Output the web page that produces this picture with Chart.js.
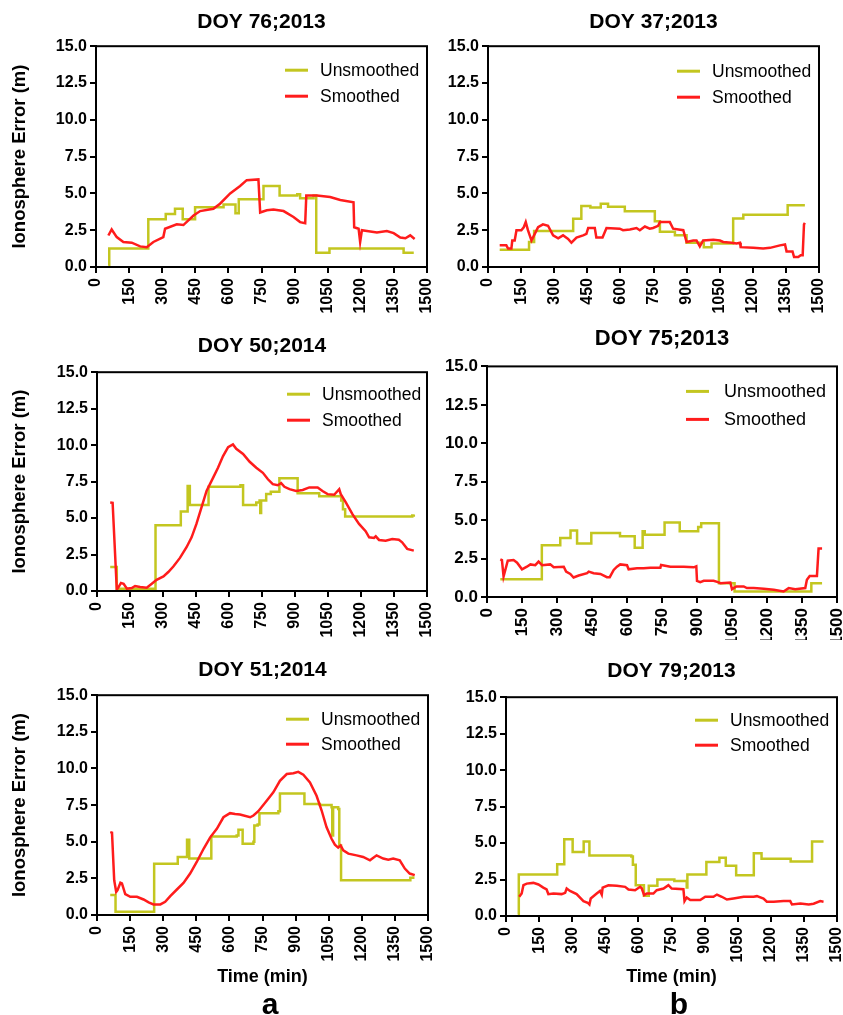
<!DOCTYPE html>
<html>
<head>
<meta charset="utf-8">
<title>Ionosphere error</title>
<script src="https://cdn.jsdelivr.net/npm/chart.js@4.4.1/dist/chart.umd.min.js"></script>
<style>
  body { margin: 0; width: 843px; height: 1015px; overflow: hidden; background: #fff; position: relative;
         font-family: "Liberation Sans", Arial, sans-serif; }
  canvas { position: absolute; }
  .tag { position: absolute; width: 40px; text-align: center; font-weight: bold; font-size: 30px; line-height: 30px; color: #000; }
</style>
</head>
<body>
<canvas id="c1" width="457" height="315" style="left:0px;top:0px"></canvas>
<canvas id="c2" width="419" height="315" style="left:430px;top:0px"></canvas>
<canvas id="c3" width="457" height="320" style="left:0px;top:320px"></canvas>
<canvas id="c4" width="437" height="320" style="left:430px;top:320px"></canvas>
<canvas id="c5" width="458" height="375" style="left:0px;top:640px"></canvas>
<canvas id="c6" width="437" height="375" style="left:430px;top:640px"></canvas>
<div class="tag" style="left:250px;top:989px">a</div>
<div class="tag" style="left:659px;top:989px">b</div>
<script>
// [time (min), error (m)]; unsmoothed = step changes
var doy76Unsmoothed = [[56,0.1],[60,1.25],[237,3.25],[316,3.6],[358,3.95],[393,3.25],[449,4.06],[578,4.24],[632,3.65],[647,4.6],[759,5.5],[832,4.85],[912,4.95],[925,4.67],[986,4.85],[998,0.97],[1058,1.25],[1394,0.97],[1440,0.97]];
var doy76Smoothed = [[56,2.14],[71,2.55],[94,2.03],[124,1.7],[162,1.65],[200,1.4],[230,1.35],[260,1.7],[305,2.03],[313,2.6],[366,2.9],[396,2.85],[442,3.5],[472,3.8],[532,3.95],[562,4.3],[608,5.0],[653,5.5],[683,5.9],[736,5.95],[744,3.7],[774,3.85],[804,3.9],[850,3.8],[895,3.4],[925,3.05],[948,2.97],[953,4.85],[1001,4.85],[1061,4.75],[1107,4.55],[1167,4.4],[1170,2.7],[1190,2.6],[1197,1.7],[1205,2.5],[1228,2.45],[1273,2.35],[1318,2.45],[1349,2.3],[1379,2.0],[1402,1.95],[1424,2.15],[1444,1.9]];

var doy37Unsmoothed = [[53,1.17],[186,1.7],[209,2.45],[386,3.27],[423,4.15],[464,4.05],[511,4.3],[544,4.1],[620,3.79],[756,3.1],[779,2.39],[847,2.15],[900,1.65],[978,1.35],[1013,1.6],[1111,3.3],[1157,3.55],[1358,4.2],[1436,4.2]];
var doy37Smoothed = [[53,1.47],[83,1.47],[91,1.25],[106,1.25],[110,1.8],[121,1.8],[129,2.5],[151,2.5],[162,2.7],[171,3.05],[181,2.5],[197,1.8],[212,2.25],[227,2.7],[249,2.9],[272,2.8],[295,2.15],[318,1.95],[340,2.15],[363,1.9],[378,1.65],[401,2.0],[431,2.15],[446,2.25],[454,2.65],[484,2.65],[491,2.0],[519,2.0],[537,2.65],[597,2.6],[612,2.5],[643,2.55],[673,2.65],[688,2.5],[711,2.75],[733,2.6],[748,2.65],[771,2.8],[779,3.05],[824,3.05],[839,2.6],[885,2.5],[900,1.7],[930,1.8],[945,1.8],[960,1.4],[975,1.8],[1021,1.85],[1051,1.8],[1066,1.7],[1104,1.65],[1126,1.6],[1142,1.65],[1145,1.35],[1202,1.3],[1247,1.25],[1278,1.3],[1323,1.47],[1346,1.53],[1353,1.06],[1380,1.06],[1387,0.68],[1406,0.68],[1417,0.8],[1426,0.8],[1432,2.9],[1436,3.0]];

var doy50Unsmoothed = [[60,1.64],[90,0.16],[266,4.5],[381,5.45],[412,7.2],[422,5.9],[507,7.14],[652,7.25],[664,5.9],[724,6.07],[739,6.2],[742,5.35],[746,6.2],[769,6.65],[790,6.8],[829,7.73],[912,6.7],[1010,6.5],[1110,6.2],[1118,5.6],[1128,5.1],[1433,5.18],[1440,5.25]];
var doy50Smoothed = [[60,6.07],[71,6.05],[90,0.1],[98,0.27],[109,0.55],[121,0.5],[136,0.16],[158,0.2],[173,0.34],[196,0.27],[226,0.23],[249,0.5],[271,0.77],[302,1.0],[324,1.3],[347,1.68],[377,2.27],[407,3.0],[430,3.68],[452,4.6],[475,5.73],[498,6.86],[528,7.77],[550,8.45],[573,9.25],[596,9.86],[618,10.05],[633,9.75],[664,9.4],[694,8.86],[724,8.45],[754,8.1],[777,7.66],[799,7.32],[822,7.25],[837,7.4],[852,7.14],[875,6.98],[905,6.86],[935,6.93],[965,7.1],[1003,7.1],[1025,6.86],[1048,6.64],[1078,6.6],[1101,6.98],[1108,6.64],[1131,6.07],[1161,5.27],[1191,4.6],[1221,4.1],[1237,3.68],[1259,3.64],[1267,3.75],[1282,3.5],[1312,3.45],[1342,3.57],[1372,3.52],[1387,3.34],[1410,2.89],[1440,2.77]];

var doy75Unsmoothed = [[57,1.16],[235,3.37],[314,3.84],[358,4.33],[386,3.48],[447,4.16],[570,3.95],[633,3.2],[667,4.27],[676,4.05],[761,4.85],[826,4.27],[905,4.55],[918,4.79],[994,0.9],[1061,0.36],[1390,0.9],[1436,0.9]];
var doy75Smoothed = [[57,2.45],[64,2.4],[71,1.33],[89,2.36],[114,2.4],[129,2.23],[150,1.8],[171,1.97],[186,2.12],[207,2.07],[221,2.3],[236,2.07],[271,2.12],[286,1.93],[329,1.97],[339,1.65],[357,1.5],[371,1.27],[393,1.4],[429,1.55],[436,1.65],[457,1.55],[486,1.5],[514,1.29],[526,1.29],[543,1.76],[557,1.97],[571,2.12],[600,2.07],[607,1.8],[643,1.87],[671,1.87],[700,1.9],[743,1.9],[746,2.08],[786,1.97],[843,1.97],[886,1.93],[897,2.0],[900,1.05],[914,0.97],[929,1.05],[971,1.05],[990,0.97],[1000,0.9],[1043,0.94],[1050,0.51],[1069,0.69],[1100,0.69],[1114,0.58],[1143,0.58],[1186,0.54],[1229,0.47],[1271,0.36],[1293,0.58],[1321,0.51],[1364,0.58],[1371,1.12],[1383,1.37],[1414,1.37],[1421,3.15],[1436,3.15]];

var doy51Unsmoothed = [[60,1.36],[84,0.23],[259,3.5],[366,3.96],[408,5.14],[418,3.85],[518,5.36],[633,5.43],[641,5.81],[660,4.86],[709,5.0],[713,6.1],[728,6.17],[736,6.95],[822,7.08],[829,8.3],[940,7.58],[1010,7.5],[1063,7.35],[1066,5.43],[1070,7.35],[1093,7.24],[1098,4.75],[1106,2.37],[1402,2.37],[1420,2.55],[1433,2.65]];
var doy51Smoothed = [[60,5.66],[68,5.62],[78,2.37],[87,1.58],[93,1.7],[106,2.2],[113,2.15],[128,1.43],[151,1.24],[181,1.24],[211,1.06],[234,0.86],[256,0.72],[287,0.72],[309,0.9],[332,1.29],[362,1.74],[392,2.19],[422,2.83],[452,3.62],[483,4.52],[513,5.3],[543,5.88],[573,6.67],[603,6.95],[626,6.9],[648,6.86],[694,6.67],[709,6.79],[731,7.08],[769,7.8],[799,8.37],[829,9.16],[860,9.62],[890,9.68],[912,9.77],[935,9.57],[965,9.05],[995,8.14],[1018,7.13],[1040,6.0],[1063,5.2],[1078,4.8],[1093,4.6],[1104,4.75],[1116,4.41],[1139,4.19],[1176,4.07],[1206,3.96],[1237,3.73],[1267,4.07],[1297,3.85],[1320,3.78],[1342,3.85],[1372,3.73],[1395,3.17],[1417,2.83],[1440,2.72]];

var doy79Unsmoothed = [[53,0.14],[58,2.84],[232,3.54],[264,5.27],[302,4.38],[352,5.11],[378,4.15],[568,4.08],[575,3.52],[588,2.11],[625,1.38],[647,2.07],[686,2.5],[763,2.4],[819,1.95],[822,2.84],[908,3.7],[967,4.0],[996,3.45],[1043,2.79],[1123,4.31],[1158,3.93],[1290,3.74],[1387,5.11],[1439,5.11]];
var doy79Smoothed = [[60,1.32],[71,1.54],[79,2.11],[94,2.22],[124,2.27],[147,2.16],[169,1.95],[184,1.82],[192,1.5],[215,1.54],[252,1.5],[268,1.59],[275,1.88],[290,1.72],[320,1.5],[351,1.02],[370,0.91],[378,0.79],[384,1.2],[411,1.54],[426,1.72],[434,1.47],[438,1.95],[464,2.11],[502,2.07],[540,2.0],[555,1.82],[585,1.77],[608,2.0],[615,1.9],[626,1.43],[638,1.54],[668,1.54],[683,1.77],[714,1.88],[736,2.11],[751,1.88],[804,1.84],[809,1.02],[819,1.27],[835,1.09],[880,1.09],[903,1.32],[940,1.32],[956,1.47],[978,1.32],[1001,1.13],[1031,1.2],[1077,1.32],[1122,1.32],[1137,1.36],[1167,1.2],[1182,0.98],[1213,0.98],[1258,1.02],[1288,1.02],[1296,0.79],[1334,0.86],[1372,0.79],[1394,0.84],[1424,1.02],[1439,0.98]];

var seriesNames = ["Unsmoothed", "Smoothed"];
var YELLOW = "#c3c620";
var RED = "#ff1c1c";

Chart.defaults.font.family = '"Liberation Sans", Arial, sans-serif';
Chart.defaults.color = "#000";

// box round the plot area (top and right sides too)
var framePlugin = {
  id: "frame",
  afterDraw: function(chart) {
    var a = chart.chartArea, ctx = chart.ctx;
    ctx.save();
    ctx.strokeStyle = "#000";
    ctx.lineWidth = 2;
    ctx.strokeRect(a.left, a.top, a.right - a.left, a.bottom - a.top);
    ctx.restore();
  }
};

// legend drawn inside the plot, top right
var insideLegend = {
  id: "insideLegend",
  afterDraw: function(chart, args, opts) {
    var a = chart.chartArea, ctx = chart.ctx;
    var x = a.right - opts.x;
    ctx.save();
    ctx.font = opts.size + 'px "Liberation Sans", Arial, sans-serif';
    ctx.textBaseline = "middle";
    chart.data.datasets.forEach(function(ds, i) {
      var y = a.top + opts.y + i * opts.gap;
      ctx.strokeStyle = ds.borderColor;
      ctx.lineWidth = 3;
      ctx.beginPath();
      ctx.moveTo(x, y);
      ctx.lineTo(x + 23, y);
      ctx.stroke();
      ctx.fillStyle = "#000";
      ctx.fillText(ds.label, x + opts.textGap, y + 1);
    });
    ctx.restore();
  }
};

var panels = [
  {id: "c1", title: "DOY 76;2013", uns: doy76Unsmoothed, sm: doy76Smoothed, yW: 96, xH: 48, tTop: 10, tBot: 11,
   yTitle: true, xTitle: false, legX: 142, legY: 24, legGap: 26, legSize: 17.5, textGap: 35, titleSize: 21, tickSize: 16},
  {id: "c2", title: "DOY 37;2013", uns: doy37Unsmoothed, sm: doy37Smoothed, yW: 58, xH: 48, tTop: 10, tBot: 11,
   yTitle: false, xTitle: false, legX: 142, legY: 25, legGap: 26, legSize: 17.5, textGap: 35, titleSize: 21, tickSize: 16},
  {id: "c3", title: "DOY 50;2014", uns: doy50Unsmoothed, sm: doy50Smoothed, yW: 97, xH: 49, tTop: 14, tBot: 13,
   yTitle: true, xTitle: false, legX: 140, legY: 22, legGap: 26, legSize: 17.5, textGap: 35, titleSize: 21, tickSize: 16},
  {id: "c4", title: "DOY 75;2013", uns: doy75Unsmoothed, sm: doy75Smoothed, yW: 57, xH: 43, tTop: 6, tBot: 14,
   yTitle: false, xTitle: false, legX: 151, legY: 25, legGap: 28, legSize: 18, textGap: 38, titleSize: 22, tickSize: 17},
  {id: "c5", title: "DOY 51;2014", uns: doy51Unsmoothed, sm: doy51Smoothed, yW: 97, xH: 100, tTop: 18, tBot: 12,
   yTitle: true, xTitle: true, legX: 142, legY: 24, legGap: 25, legSize: 17.5, textGap: 35, titleSize: 21, tickSize: 16},
  {id: "c6", title: "DOY 79;2013", uns: doy79Unsmoothed, sm: doy79Smoothed, yW: 76, xH: 99, tTop: 19, tBot: 13,
   yTitle: false, xTitle: true, legX: 142, legY: 23, legGap: 25, legSize: 17.5, textGap: 35, titleSize: 21, tickSize: 16}
];

function makeChart(p) {
  var axisGrid = { drawOnChartArea: false, drawTicks: true, tickLength: 6, color: "#000", lineWidth: 2 };
  var axisBorder = { display: true, color: "#000", width: 2 };
  return new Chart(document.getElementById(p.id), {
    type: "line",
    data: {
      datasets: [
        { label: seriesNames[0], data: p.uns, borderColor: YELLOW, borderWidth: 2.5, stepped: true,
          pointRadius: 0, fill: false, order: 1 },
        { label: seriesNames[1], data: p.sm, borderColor: RED, borderWidth: 2.5,
          pointRadius: 0, fill: false, tension: 0, order: 0 }
      ]
    },
    options: {
      responsive: false,
      animation: false,
      events: [],
      layout: { padding: { left: 0, top: 0, right: 30, bottom: 0 } },
      plugins: {
        legend: { display: false },
        tooltip: { enabled: false },
        title: { display: true, text: p.title, fullSize: false, color: "#000",
                 font: { size: p.titleSize, weight: "bold" }, padding: { top: p.tTop, bottom: p.tBot } },
        insideLegend: { x: p.legX, y: p.legY, gap: p.legGap, size: p.legSize, textGap: p.textGap }
      },
      scales: {
        x: {
          type: "linear", min: 0, max: 1500,
          afterFit: function(s) { s.height = p.xH; },
          ticks: { stepSize: 150, minRotation: 90, maxRotation: 90, autoSkip: false, padding: 5, color: "#000",
                   font: { size: p.tickSize, weight: "bold" },
                   callback: function(v) { return String(v); } },
          grid: axisGrid,
          border: axisBorder,
          title: { display: p.xTitle, text: "Time (min)", color: "#000",
                   font: { size: 18, weight: "bold" }, padding: { top: 0, bottom: 27 } }
        },
        y: {
          min: 0, max: 15,
          afterFit: function(s) { s.width = p.yW; },
          ticks: { stepSize: 2.5, padding: 3, color: "#000", font: { size: p.tickSize, weight: "bold" },
                   callback: function(v) { return v.toFixed(1); } },
          grid: axisGrid,
          border: axisBorder,
          title: { display: p.yTitle, text: "Ionosphere Error (m)", color: "#000",
                   font: { size: 18.5, weight: "bold" }, padding: { top: 9, bottom: 0 } }
        }
      }
    },
    plugins: [framePlugin, insideLegend]
  });
}

panels.forEach(makeChart);
</script>
</body>
</html>
